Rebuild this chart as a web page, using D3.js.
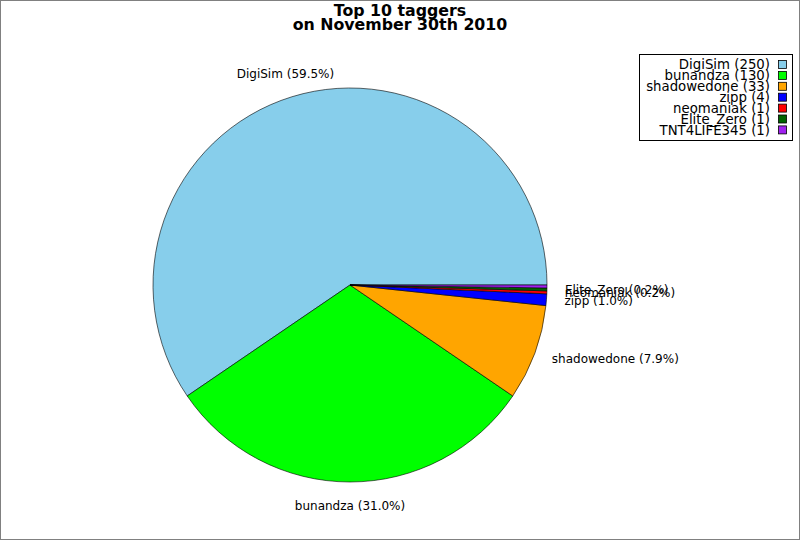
<!DOCTYPE html>
<html>
<head>
<meta charset="utf-8">
<title>Top 10 taggers</title>
<script src="https://cdn.jsdelivr.net/npm/d3@7"></script>
<style>
  body { margin: 0; background: #fff; }
  svg { display: block; font-family: "DejaVu Sans", sans-serif; }
</style>
</head>
<body>
<script>
  var names = ["DigiSim", "bunandza", "shadowedone", "zipp", "neomaniak", "Elite_Zero", "TNT4LIFE345"];
  var counts = [250, 130, 33, 4, 1, 1, 1];
  var colors = ["#87CEEB", "#00FF00", "#FFA500", "#0000FF", "#FF0000", "#006400", "#A020F0"];
  // the last slice has no label in the original
  var showLabel = [true, true, true, true, true, true, false];

  var width = 800, height = 540;
  var cx = 350, cy = 285, radius = 197, labelR = 219;

  var svg = d3.select("body").append("svg")
      .attr("width", width)
      .attr("height", height);

  svg.append("rect")
      .attr("x", 0.5).attr("y", 0.5)
      .attr("width", width - 1).attr("height", height - 1)
      .attr("fill", "#fff").attr("stroke", "#808080");

  // title
  var title = svg.append("text")
      .attr("text-anchor", "middle")
      .attr("font-weight", "bold")
      .attr("font-size", 15.8);
  title.append("tspan").attr("x", 400).attr("y", 16).text("Top 10 taggers");
  title.append("tspan").attr("x", 400).attr("y", 30).text("on November 30th 2010");

  var total = d3.sum(counts);
  var data = names.map(function(n, i) { return {name: n, value: counts[i], i: i}; });

  // start at 3 o'clock and go counterclockwise
  var pie = d3.pie()
      .value(function(d) { return d.value; })
      .sort(null)
      .startAngle(Math.PI / 2)
      .endAngle(Math.PI / 2 - 2 * Math.PI);

  var arc = d3.arc().innerRadius(0).outerRadius(radius);

  var g = svg.append("g").attr("transform", "translate(" + cx + "," + cy + ")");

  var arcs = pie(data);

  g.selectAll("path")
      .data(arcs)
      .enter()
      .append("path")
      .attr("d", arc)
      .attr("fill", function(d) { return colors[d.data.i]; })
      .attr("stroke", "#000")
      .attr("stroke-width", 0.6);

  function mid(d) { return (d.startAngle + d.endAngle) / 2; }

  g.selectAll("text.lbl")
      .data(arcs.filter(function(d) { return showLabel[d.data.i]; }))
      .enter()
      .append("text")
      .attr("class", "lbl")
      .attr("font-size", 12)
      .attr("fill", "#000")
      .attr("dy", "0.35em")
      .attr("x", function(d) {
          var s = Math.sin(mid(d));
          return s * (Math.abs(s) > 0.3 ? 215 : labelR);
      })
      .attr("y", function(d) {
          var s = Math.sin(mid(d));
          return -Math.cos(mid(d)) * (Math.abs(s) > 0.3 ? 215 : labelR + 2);
      })
      .attr("text-anchor", function(d) {
          var s = Math.sin(mid(d));
          return s > 0.3 ? "start" : (s < -0.3 ? "end" : "middle");
      })
      .text(function(d) { return d.data.name + " (" + d3.format(".1f")(d.value / total * 100) + "%)"; });

  // legend
  var legend = svg.append("g").attr("transform", "translate(639,54)");
  legend.append("rect")
      .attr("x", 0.5).attr("y", 0.5)
      .attr("width", 153).attr("height", 86)
      .attr("fill", "#fff").attr("stroke", "#000");

  var rows = legend.selectAll("g.row")
      .data(data)
      .enter()
      .append("g")
      .attr("class", "row")
      .attr("transform", function(d, i) { return "translate(0," + (10.5 + i * 10.9) + ")"; });

  rows.append("text")
      .attr("x", 131)
      .attr("dy", "0.35em")
      .attr("text-anchor", "end")
      .attr("font-size", 13.3)
      .text(function(d) { return d.name + " (" + d.value + ")"; });

  rows.append("rect")
      .attr("x", 139.5).attr("y", -4)
      .attr("width", 8).attr("height", 8)
      .attr("fill", function(d) { return colors[d.i]; })
      .attr("stroke", "#000")
      .attr("stroke-width", 0.8);
</script>
</body>
</html>
